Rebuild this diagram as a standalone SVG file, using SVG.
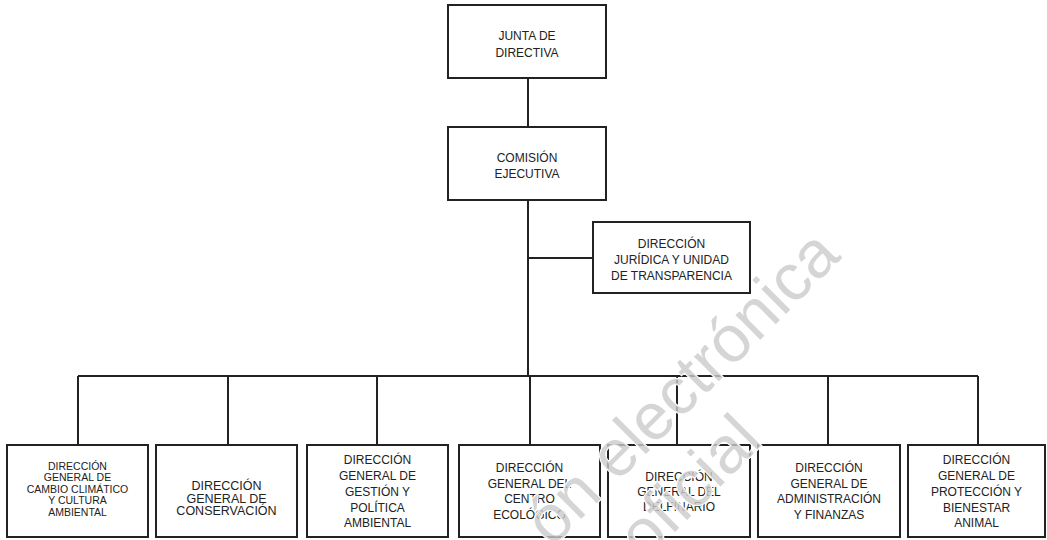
<svg xmlns="http://www.w3.org/2000/svg" width="1047" height="540" viewBox="0 0 1047 540">
<style>
.box{fill:#fff;stroke:#222;stroke-width:2}
.t{font-family:"Liberation Sans",Arial,sans-serif;font-size:12px;fill:#222;text-anchor:middle}
.s{font-size:10.5px}
.m{font-size:12.5px}
.ln{stroke:#222;stroke-width:2;fill:none}
.wm{font-family:"Liberation Sans",Arial,sans-serif;font-size:66px;fill:#cacaca;fill-opacity:0.8;stroke:#fff;stroke-width:2;paint-order:stroke}
</style>
<rect width="1047" height="540" fill="#fff"/>
<g id="connectors">
<path class="ln" d="M528 78V127M528 200V376M528 258H593M78 376H978M78 376V445M228 376V445M377 376V445M530 376V445M677 376V445M828 376V445M978 376V445"/>
</g>
<g id="junta">
<rect class="box" x="448" y="5" width="158" height="73"/>
<text class="t" x="527" y="39.5">JUNTA DE</text>
<text class="t" x="527" y="56.5">DIRECTIVA</text>
</g>
<g id="comision">
<rect class="box" x="448" y="127" width="158" height="73"/>
<text class="t" x="527" y="161.5">COMISIÓN</text>
<text class="t" x="527" y="177.5">EJECUTIVA</text>
</g>
<g id="juridica">
<rect class="box" x="593" y="222" width="157" height="71"/>
<text class="t" x="671.5" y="247.5">DIRECCIÓN</text>
<text class="t" x="671.5" y="263.5">JURÍDICA Y UNIDAD</text>
<text class="t" x="671.5" y="279.5">DE TRANSPARENCIA</text>
</g>
<g id="dg1">
<rect class="box" x="7" y="445" width="141" height="92"/>
<text class="t s" x="77.5" y="469.8">DIRECCIÓN</text>
<text class="t s" x="77.5" y="481.3">GENERAL DE</text>
<text class="t s" x="77.5" y="492.8">CAMBIO CLIMÁTICO</text>
<text class="t s" x="77.5" y="504.3">Y CULTURA</text>
<text class="t s" x="77.5" y="515.8">AMBIENTAL</text>
</g>
<g id="dg2">
<rect class="box" x="156" y="445" width="141" height="92"/>
<text class="t m" x="226.5" y="490">DIRECCIÓN</text>
<text class="t m" x="226.5" y="503">GENERAL DE</text>
<text class="t m" x="226.5" y="515">CONSERVACIÓN</text>
</g>
<g id="dg3">
<rect class="box" x="307" y="445" width="141" height="92"/>
<text class="t" x="377.5" y="464.3">DIRECCIÓN</text>
<text class="t" x="377.5" y="480">GENERAL DE</text>
<text class="t" x="377.5" y="495.8">GESTIÓN Y</text>
<text class="t" x="377.5" y="511.5">POLÍTICA</text>
<text class="t" x="377.5" y="527.3">AMBIENTAL</text>
</g>
<g id="dg4">
<rect class="box" x="459" y="445" width="141" height="92"/>
<text class="t" x="529.5" y="472.3">DIRECCIÓN</text>
<text class="t" x="529.5" y="487.8">GENERAL DEL</text>
<text class="t" x="529.5" y="503.3">CENTRO</text>
<text class="t" x="529.5" y="518.8">ECOLÓGICO</text>
</g>
<g id="dg5">
<rect class="box" x="608" y="445" width="142" height="92"/>
<text class="t" x="679" y="481.3">DIRECCIÓN</text>
<text class="t" x="679" y="496.3">GENERAL DEL</text>
<text class="t" x="679" y="511.3">DELFINARIO</text>
</g>
<g id="dg6">
<rect class="box" x="758" y="445" width="142" height="92"/>
<text class="t" x="829" y="472.3">DIRECCIÓN</text>
<text class="t" x="829" y="487.8">GENERAL DE</text>
<text class="t" x="829" y="503.3">ADMINISTRACIÓN</text>
<text class="t" x="829" y="518.8">Y FINANZAS</text>
</g>
<g id="dg7">
<rect class="box" x="908" y="445" width="137" height="92"/>
<text class="t" x="976.5" y="464.3">DIRECCIÓN</text>
<text class="t" x="976.5" y="480">GENERAL DE</text>
<text class="t" x="976.5" y="495.8">PROTECCIÓN Y</text>
<text class="t" x="976.5" y="511.5">BIENESTAR</text>
<text class="t" x="976.5" y="527.3">ANIMAL</text>
</g>
<g id="watermark">
<text class="wm" x="552" y="548" transform="rotate(-45 552 548)">ón electrónica</text>
<text class="wm" x="645" y="562" transform="rotate(-45 645 562)">oficial</text>
</g>
</svg>
